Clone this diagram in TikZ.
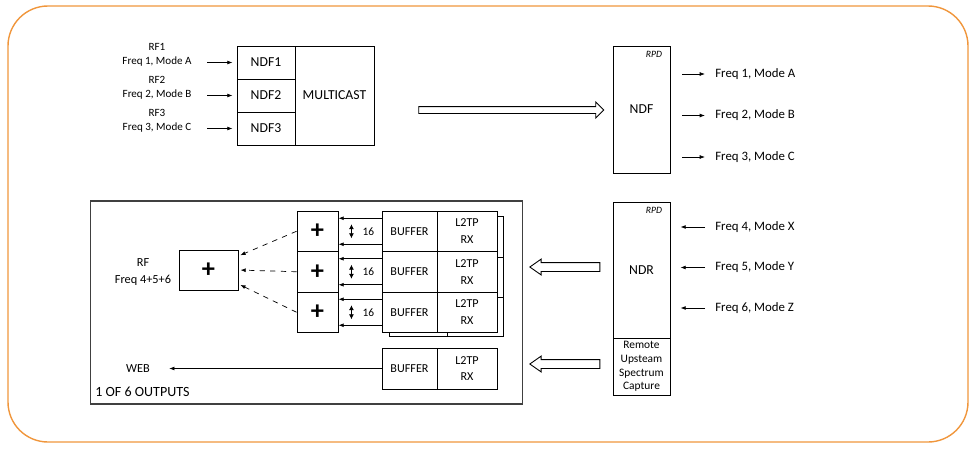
\documentclass[tikz,border=0pt]{standalone}
\usepackage{fontspec}
\setmainfont{Carlito}
\usetikzlibrary{arrows.meta,shapes.arrows}
\definecolor{frameorange}{RGB}{240,150,60}

\begin{document}
\begin{tikzpicture}[x=0.02cm,y=-0.02cm,
    box/.style={draw,line width=0.5pt,inner sep=0pt,font=\fontsize{7.8}{9}\selectfont},
    cell/.style={box,minimum width=11mm,minimum height=8.1mm,font=\fontsize{6.9}{9.6}\selectfont,align=center},
    plus/.style={box,font=\fontsize{15}{15}\selectfont\bfseries},
    lbl/.style={inner sep=0pt,font=\fontsize{7.3}{9}\selectfont},
    sml/.style={inner sep=0pt,align=center,font=\fontsize{6.3}{7.9}\selectfont},
    rpd/.style={inner sep=0pt,anchor=north east,font=\fontsize{5.5}{6}\selectfont\itshape},
    tip/.style={-{Latex[length=3pt,width=2.2pt]},line width=0.4pt},
    twotip/.style={{Latex[length=2.8pt,width=2.8pt]}-{Latex[length=2.8pt,width=2.8pt]},line width=0.4pt},
    hollow/.style={draw,single arrow,line width=0.5pt,inner xsep=0pt}]

    \useasboundingbox (0,0) rectangle (970,450);
    \draw[frameorange,line width=0.8pt,rounded corners=8mm] (8,6) rectangle (968,442);

    % downstream: NDF
    \node[box,minimum width=11.6mm,minimum height=6.6mm] (ndf1) at (266,62.5) {NDF1};
    \node[box,minimum width=11.6mm,minimum height=6.6mm] (ndf2) at (266,95.5) {NDF2};
    \node[box,minimum width=11.6mm,minimum height=6.6mm] (ndf3) at (266,128.5) {NDF3};
    \node[box,minimum width=15.8mm,minimum height=19.8mm] (mcast) at (334.5,95.5) {MULTICAST};

    \node[sml] (rf1) at (157,55) {RF1\\Freq 1, Mode A};
    \node[sml] (rf2) at (157,88) {RF2\\Freq 2, Mode B};
    \node[sml] (rf3) at (157,121) {RF3\\Freq 3, Mode C};
    \coordinate (rf1in) at (207,62.5);
    \coordinate (rf2in) at (207,95.5);
    \coordinate (rf3in) at (207,128.5);
    \draw[tip,shorten >=0.8mm] (rf1in) -- (ndf1.west);
    \draw[tip,shorten >=0.8mm] (rf2in) -- (ndf2.west);
    \draw[tip,shorten >=0.8mm] (rf3in) -- (ndf3.west);

    \node[hollow,minimum height=37mm,inner ysep=0.6mm,single arrow head extend=0.9mm] (dsarrow) at (509.5,110) {};

    \node[box,minimum width=11.4mm,minimum height=25.4mm] (ndf) at (641.5,109.5) {NDF};
    \node[rpd] (rpd1) at ([shift={(-8,5)}]ndf.north east) {RPD};
    \node[lbl,anchor=west] (fa) at (715,74) {Freq 1, Mode A};
    \node[lbl,anchor=west] (fb) at (715,115.5) {Freq 2, Mode B};
    \node[lbl,anchor=west] (fc) at (715,157) {Freq 3, Mode C};
    \draw[tip,shorten <=2.4mm,shorten >=2mm] (ndf.east |- fa.west) -- (fa.west);
    \draw[tip,shorten <=2.4mm,shorten >=2mm] (ndf.east |- fb.west) -- (fb.west);
    \draw[tip,shorten <=2.4mm,shorten >=2mm] (ndf.east |- fc.west) -- (fc.west);

    % upstream: NDR
    \node[box,minimum width=11.4mm,minimum height=27.2mm] (ndr) at (641.5,270) {NDR};
    \node[rpd] (rpd2) at ([shift={(-8,5)}]ndr.north east) {RPD};
    \node[box,minimum width=11.4mm,minimum height=11.4mm,align=center,font=\fontsize{6.5}{7.7}\selectfont] (rusc) at (641.5,366.5) {Remote\\Upsteam\\Spectrum\\Capture};
    \node[lbl,anchor=west] (fx) at (715,227) {Freq 4, Mode X};
    \node[lbl,anchor=west] (fy) at (715,267.5) {Freq 5, Mode Y};
    \node[lbl,anchor=west] (fz) at (715,308) {Freq 6, Mode Z};
    \draw[tip,shorten <=2mm,shorten >=2mm] (fx.west) -- (ndr.east |- fx.west);
    \draw[tip,shorten <=2mm,shorten >=2mm] (fy.west) -- (ndr.east |- fy.west);
    \draw[tip,shorten <=2mm,shorten >=2mm] (fz.west) -- (ndr.east |- fz.west);

    \node[hollow,minimum height=14mm,inner ysep=0.8mm,single arrow head extend=0.7mm,single arrow tip angle=70,shape border rotate=180] (usarrow1) at (568,267) {};
    \node[hollow,minimum height=14mm,inner ysep=0.8mm,single arrow head extend=0.7mm,single arrow tip angle=70,shape border rotate=180] (usarrow2) at (568,364) {};

    % one output
    \node[draw,line width=0.6pt,black!75,minimum width=86.6mm,minimum height=40.6mm] (outbox) at (306.5,302.5) {};
    \node[inner sep=0pt,anchor=west,font=\fontsize{8}{9}\selectfont] (outlbl) at (95,392) {1 OF 6 OUTPUTS};

    \node[plus,minimum width=11.8mm,minimum height=8mm] (rfsum) at (208.5,270) {+};
    \node[inner sep=0pt,align=center,font=\fontsize{7}{10}\selectfont] (rflbl) at (143,272) {RF\\Freq 4+5+6};

    \node[plus,minimum width=8.2mm,minimum height=8.1mm] (p1) at (317.5,231.25) {+};
    \node[plus,minimum width=8.2mm,minimum height=8.1mm] (p2) at (317.5,271.75) {+};
    \node[plus,minimum width=8.2mm,minimum height=8.1mm] (p3) at (317.5,312.25) {+};
    \node[cell] (b1) at (409.5,231.25) {BUFFER};
    \node[cell] (b2) at (409.5,271.75) {BUFFER};
    \node[cell] (b3) at (409.5,312.25) {BUFFER};
    \node[cell,minimum width=12mm] (l1) at (467,231.25) {L2TP\\RX};
    \node[cell,minimum width=12mm] (l2) at (467,271.75) {L2TP\\RX};
    \node[cell,minimum width=12mm] (l3) at (467,312.25) {L2TP\\RX};

    % stacked copies behind
    \draw[line width=0.5pt] ([shift={(0,6)}]l1.north east) -- ++(6,0) -- ++(0,120) -| ([xshift=1.6mm]b3.south west);
    \draw[line width=0.5pt] ([xshift=2mm]b3.south east) -- ++(0,4.5);
    \draw[line width=0.5pt] ([shift={(0,6)}]l2.north east) -- ++(6,0);
    \draw[line width=0.5pt] ([shift={(0,6)}]l3.north east) -- ++(6,0);

    \draw[tip] ([yshift=2.6mm]b1.west) -- ([yshift=2.6mm]p1.east);
    \draw[tip] ([yshift=-2.6mm]b1.west) -- ([yshift=-2.6mm]p1.east);
    \draw[tip] ([yshift=2.6mm]b2.west) -- ([yshift=2.6mm]p2.east);
    \draw[tip] ([yshift=-2.6mm]b2.west) -- ([yshift=-2.6mm]p2.east);
    \draw[tip] ([yshift=2.6mm]b3.west) -- ([yshift=2.6mm]p3.east);
    \draw[tip] ([yshift=-2.6mm]b3.west) -- ([yshift=-2.6mm]p3.east);
    \draw[twotip] ([shift={(13,-7)}]p1.east) -- ([shift={(13,7)}]p1.east);
    \draw[twotip] ([shift={(13,-7)}]p2.east) -- ([shift={(13,7)}]p2.east);
    \draw[twotip] ([shift={(13,-7)}]p3.east) -- ([shift={(13,7)}]p3.east);
    \node[font=\fontsize{6.5}{7}\selectfont] (n1) at ([shift={(30,0)}]p1.east) {16};
    \node[font=\fontsize{6.5}{7}\selectfont] (n2) at ([shift={(30,0)}]p2.east) {16};
    \node[font=\fontsize{6.5}{7}\selectfont] (n3) at ([shift={(30,0)}]p3.east) {16};

    \draw[tip,dashed,shorten >=0.4mm] (p1.west) -- ([yshift=2.8mm]rfsum.east);
    \draw[tip,dashed,shorten >=0.4mm] (p2.west) -- (rfsum.east);
    \draw[tip,dashed,shorten >=0.4mm] (p3.west) -- ([yshift=-2.8mm]rfsum.east);

    \node[cell,minimum height=8.2mm] (b4) at (409.5,368.5) {BUFFER};
    \node[cell,minimum width=12mm,minimum height=8.2mm] (l4) at (467,368.5) {L2TP\\RX};
    \node[lbl,font=\fontsize{7}{9}\selectfont] (web) at (138,368.5) {WEB};
    \draw[tip,shorten >=3.8mm] (b4.west) -- (web.east);
\end{tikzpicture}
\end{document}
